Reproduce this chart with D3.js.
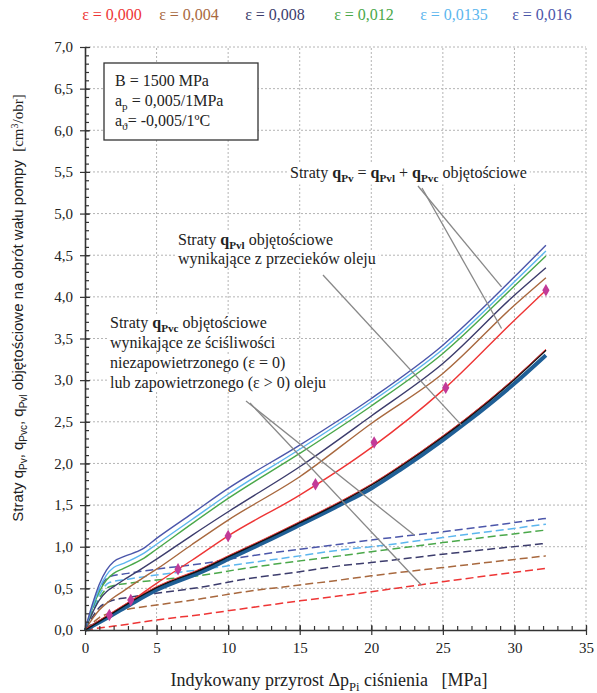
<!DOCTYPE html>
<html>
<head>
<meta charset="utf-8">
<script src="https://cdn.jsdelivr.net/npm/d3@7"></script>
<style>
  body { margin: 0; background: #fff; }
  svg { display: block; }
</style>
</head>
<body>
<svg width="597" height="693"></svg>
<script>
// air content of the oil, one colour per series
var epsLabels = ["ε = 0,000", "ε = 0,004", "ε = 0,008", "ε = 0,012", "ε = 0,0135", "ε = 0,016"];
var epsColors = ["#ee3535", "#a8683e", "#3c3c6c", "#4aa84a", "#5cb6ee", "#4b56aa"];

// total volumetric losses q_Pv (solid lines)
var pTot = [0, 0.5, 1, 1.5, 2, 2.7, 4, 5, 7.5, 10, 15, 20, 25, 30, 32.2];
var qTot000 = [0, 0.05, 0.11, 0.16, 0.21, 0.29, 0.44, 0.56, 0.84, 1.13, 1.62, 2.19, 2.88, 3.72, 4.08];
var qTot004 = [0, 0.13, 0.24, 0.32, 0.39, 0.47, 0.62, 0.73, 1.03, 1.32, 1.84, 2.48, 3.08, 3.90, 4.23];
var qTot008 = [0, 0.20, 0.36, 0.46, 0.52, 0.60, 0.74, 0.85, 1.14, 1.42, 1.96, 2.57, 3.20, 4.02, 4.35];
var qTot012 = [0, 0.25, 0.46, 0.60, 0.68, 0.74, 0.85, 0.97, 1.28, 1.58, 2.12, 2.69, 3.32, 4.13, 4.49];
var qTot0135 = [0, 0.27, 0.50, 0.66, 0.75, 0.80, 0.91, 1.03, 1.33, 1.63, 2.17, 2.74, 3.37, 4.18, 4.55];
var qTot016 = [0, 0.30, 0.55, 0.72, 0.82, 0.88, 0.97, 1.10, 1.40, 1.70, 2.22, 2.78, 3.42, 4.24, 4.62];

// compressibility losses q_Pvc (dashed lines)
var pDash = [0, 0.5, 1, 1.7, 3, 5, 8.3, 10.8, 15, 17.8, 20, 25, 32.2];
var qC000 = [0, 0.012, 0.024, 0.04, 0.07, 0.12, 0.19, 0.25, 0.35, 0.41, 0.46, 0.58, 0.74];
var qC004 = [0, 0.08, 0.15, 0.20, 0.25, 0.30, 0.38, 0.45, 0.54, 0.60, 0.65, 0.75, 0.89];
var qC008 = [0, 0.15, 0.27, 0.34, 0.39, 0.44, 0.52, 0.60, 0.70, 0.77, 0.81, 0.91, 1.04];
var qC012 = [0, 0.20, 0.38, 0.52, 0.56, 0.60, 0.66, 0.73, 0.83, 0.89, 0.94, 1.05, 1.20];
var qC0135 = [0, 0.22, 0.42, 0.57, 0.61, 0.66, 0.73, 0.79, 0.89, 0.96, 1.00, 1.11, 1.27];
var qC016 = [0, 0.25, 0.48, 0.64, 0.68, 0.73, 0.80, 0.87, 0.97, 1.03, 1.08, 1.18, 1.34];

// leakage losses q_Pvl (thick line, curves almost on top of each other)
var pLeak = [0, 1.7, 3.2, 5, 8.3, 10, 12.5, 15, 17.8, 20, 22, 25, 26.7, 30, 32.2];
var qLeakTop = [0, 0.18, 0.34, 0.51, 0.74, 0.88, 1.08, 1.29, 1.53, 1.74, 1.96, 2.32, 2.54, 3.01, 3.36];
var qLeakBot = [0, 0.16, 0.31, 0.48, 0.71, 0.85, 1.05, 1.26, 1.50, 1.70, 1.92, 2.28, 2.50, 2.96, 3.30];

// measured points (eps = 0)
var pMeas = [1.7, 3.2, 6.5, 10, 16.1, 20.2, 25.2, 32.2];
var qMeas = [0.18, 0.36, 0.73, 1.13, 1.75, 2.25, 2.91, 4.08];

var xTicks = [0, 5, 10, 15, 20, 25, 30, 35];
var yTicks = [0, 0.5, 1, 1.5, 2, 2.5, 3, 3.5, 4, 4.5, 5, 5.5, 6, 6.5, 7];

var totals = [qTot000, qTot004, qTot008, qTot012, qTot0135, qTot016];
var comps = [qC000, qC004, qC008, qC012, qC0135, qC016];

var SERIF = "'Liberation Serif', 'Times New Roman', serif";
var SANS = "'Liberation Sans Narrow', 'Liberation Sans', Arial, sans-serif";

var svg = d3.select("svg").attr("font-family", SERIF);
var x = d3.scaleLinear().domain([0, 35]).range([85, 586]);
var y = d3.scaleLinear().domain([0, 7]).range([630, 47]);

function pts(xs, ys) { return xs.map((v, i) => [v, ys[i]]); }
var line = d3.line().x(d => x(d[0])).y(d => y(d[1])).curve(d3.curveMonotoneX);

// grid
var grid = svg.append("g").attr("stroke", "#b4b4b4").attr("stroke-width", 1).attr("stroke-dasharray", "2,2");
grid.selectAll(".gx").data(xTicks.slice(1)).join("line")
  .attr("x1", d => x(d)).attr("x2", d => x(d)).attr("y1", y(0)).attr("y2", y(7));
grid.selectAll(".gy").data(yTicks.slice(1)).join("line")
  .attr("x1", x(0)).attr("x2", x(35)).attr("y1", d => y(d)).attr("y2", d => y(d));

var bg = svg.append("g");

// dashed q_Pvc
svg.append("g").selectAll("path").data(comps).join("path")
  .attr("d", d => line(pts(pDash, d)))
  .attr("fill", "none").attr("stroke", (d, i) => epsColors[i])
  .attr("stroke-width", 1.5).attr("stroke-dasharray", "8,4");

// solid q_Pv
svg.append("g").selectAll("path").data(totals).join("path")
  .attr("d", d => line(pts(pTot, d)))
  .attr("fill", "none").attr("stroke", (d, i) => epsColors[i])
  .attr("stroke-width", 1.4);

// thick q_Pvl bundle
svg.append("path").attr("d", line(pts(pLeak, qLeakBot)))
  .attr("fill", "none").attr("stroke", "#1f5f96").attr("stroke-width", 4);
svg.append("path").attr("d", line(pts(pLeak, qLeakTop)))
  .attr("fill", "none").attr("stroke", "#111").attr("stroke-width", 1.8);
svg.append("path").attr("d", line(pts(pLeak, qLeakTop)))
  .attr("fill", "none").attr("stroke", "#e33").attr("stroke-width", 0.9)
  .attr("transform", "translate(0,-1)");

// measured points
svg.append("g").selectAll("path").data(pts(pMeas, qMeas)).join("path")
  .attr("d", d3.symbol().type(d3.symbolDiamond).size(45))
  .attr("transform", d => "translate(" + x(d[0]) + "," + y(d[1]) + ")")
  .attr("fill", "#c23a98");

// axes
var axisCol = "#333";
var yAx = svg.append("g").attr("transform", "translate(" + x(0) + ",0)")
  .call(d3.axisLeft(y).tickValues(yTicks).tickSize(5).tickSizeOuter(0).tickPadding(7)
    .tickFormat(d => d.toFixed(1).replace(".", ",")));
yAx.selectAll(".tick line").attr("x1", 5);
svg.append("g").attr("transform", "translate(" + x(0) + ",0)")
  .call(d3.axisLeft(y).tickValues(d3.range(0, 7.001, 0.1)).tickSize(-4).tickSizeOuter(0).tickFormat(""))
  .select(".domain").remove();
var xAx = svg.append("g").attr("transform", "translate(0," + y(0) + ")")
  .call(d3.axisBottom(x).tickValues(xTicks).tickSize(5).tickSizeOuter(0).tickPadding(7));
xAx.selectAll(".tick line").attr("y1", -5);
svg.append("g").attr("transform", "translate(0," + y(0) + ")")
  .call(d3.axisBottom(x).tickValues(d3.range(0, 35.01, 1)).tickSize(-4).tickSizeOuter(0).tickFormat(""))
  .select(".domain").remove();
svg.selectAll(".domain").attr("stroke", axisCol).attr("stroke-width", 1.6);
svg.selectAll(".tick line").attr("stroke", axisCol).attr("stroke-width", 1.2);
svg.selectAll(".tick text").attr("font-size", 15).attr("font-family", SERIF).attr("fill", "#222");

// rich text helper: parts = [text, bold, sub]
function rich(g, px, py, parts, size, anchor) {
  var t = g.append("text").attr("x", px).attr("y", py).attr("font-size", size)
    .attr("font-family", SERIF).attr("fill", "#222").attr("text-anchor", anchor || "start")
    .style("white-space", "pre");
  var shift = 0;
  parts.forEach(p => {
    var s = t.append("tspan").text(p[0]);
    if (p[1]) s.attr("font-weight", "bold");
    if (p[2]) { s.attr("font-size", size * 0.7).attr("dy", size * 0.28 - shift); shift = size * 0.28; }
    else if (shift) { s.attr("dy", -shift); shift = 0; }
  });
  return t;
}

var notes = svg.append("g");
var labels = [];
labels.push(rich(notes, 290, 178, [["Straty "], ["q", 1], ["Pv", 1, 1], [" = "], ["q", 1], ["Pvl", 1, 1], [" + "], ["q", 1], ["Pvc", 1, 1], [" objętościowe"]], 16));
labels.push(rich(notes, 178, 245, [["Straty "], ["q", 1], ["Pvl", 1, 1], [" objętościowe"]], 16));
labels.push(rich(notes, 178, 264, [["wynikające z przecieków oleju"]], 16));
labels.push(rich(notes, 110, 328, [["Straty "], ["q", 1], ["Pvc", 1, 1], [" objętościowe"]], 16));
labels.push(rich(notes, 110, 348, [["wynikające ze ściśliwości"]], 16));
labels.push(rich(notes, 110, 368, [["niezapowietrzonego (ε = 0)"]], 16));
labels.push(rich(notes, 110, 388, [["lub zapowietrzonego (ε > 0) oleju"]], 16));
labels.forEach(t => {
  var b = t.node().getBBox();
  bg.append("rect").attr("x", b.x - 3).attr("y", b.y).attr("width", b.width + 6).attr("height", b.height)
    .attr("fill", "#fff");
});

// leader lines
var leaders = [
  [[418, 186], [x(29.1), y(4.12)]],
  [[422, 188], [x(29.1), y(3.62)]],
  [[323, 275], [x(26.3), y(2.46)]],
  [[246, 401], [x(23), y(1.14)]],
  [[250, 403], [x(23.5), y(0.54)]]
];
svg.append("g").selectAll("line").data(leaders).join("line")
  .attr("x1", d => d[0][0]).attr("y1", d => d[0][1])
  .attr("x2", d => d[1][0]).attr("y2", d => d[1][1])
  .attr("stroke", "#888").attr("stroke-width", 1.3);

// parameter box
svg.append("rect").attr("x", 104).attr("y", 63).attr("width", 154).attr("height", 77)
  .attr("fill", "#fff").attr("stroke", "#333").attr("stroke-width", 1.3);
rich(svg, 115, 86, [["B = 1500 MPa"]], 16);
rich(svg, 115, 106, [["a"], ["p", 0, 1], [" = 0,005/1MPa"]], 16);
rich(svg, 115, 126, [["a"], ["ϑ", 0, 1], ["= -0,005/1ºC"]], 16);

// legend
var legX = [112, 189, 275, 364, 454, 542];
svg.append("g").selectAll("text").data(epsLabels).join("text")
  .attr("x", (d, i) => legX[i]).attr("y", 20).attr("text-anchor", "middle")
  .attr("font-family", SERIF).attr("font-size", 16).attr("fill", (d, i) => epsColors[i]).text(d => d);

// axis titles
rich(svg, 329, 686, [["Indykowany przyrost Δp"], ["Pi", 0, 1], [" ciśnienia\u00a0\u00a0\u00a0[MPa]"]], 18, "middle");
var yt = svg.append("text").attr("transform", "translate(23,308) rotate(-90)")
  .attr("text-anchor", "middle").attr("font-size", 15).attr("fill", "#222");
var ytParts = [["Straty q", 0], ["Pv", 1], [", q", 0], ["Pvc", 1], [", q", 0], ["Pvl", 1], [" objętościowe na obrót wału pompy\u00a0\u00a0", 0], ["[cm", 0, 1], ["3", 2, 1], ["/obr]", 0, 1]];
var yShift = 0;
ytParts.forEach(p => {
  var s = yt.append("tspan").text(p[0]).attr("font-family", p[2] ? SERIF : SANS);
  if (p[1] === 1) { s.attr("font-size", 10).attr("dy", 4 - yShift); yShift = 4; }
  else if (p[1] === 2) { s.attr("font-size", 10).attr("dy", -5 - yShift); yShift = -5; }
  else if (yShift) { s.attr("dy", -yShift); yShift = 0; }
});
</script>
</body>
</html>
